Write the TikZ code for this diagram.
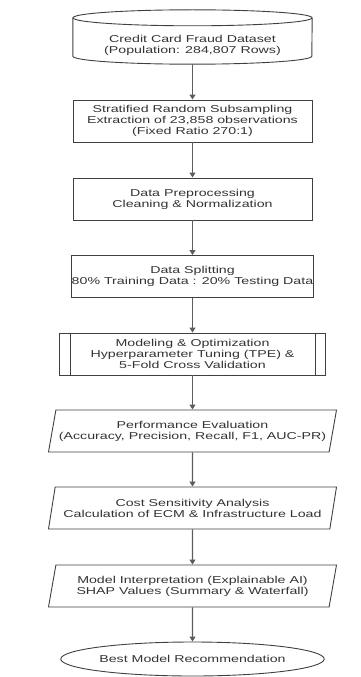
\documentclass[tikz,border=0pt]{standalone}
\usepackage{fontspec}
\setmainfont{Liberation Sans}[FakeStretch=1.42]
\usepackage{tikz}
\usetikzlibrary{arrows.meta}
\usetikzlibrary{shapes.geometric, calc}
\definecolor{edge}{RGB}{64,64,64}
\definecolor{ink}{RGB}{51,51,51}

\begin{document}
\begin{tikzpicture}[x=1pt, y=-1pt,
        every node/.style={font=\fontsize{10}{11}\selectfont, text=ink, align=center},
        stage/.style={draw=edge, line width=0.9pt, minimum width=239pt, minimum height=42pt, inner sep=0pt},
        slanted/.style={stage, trapezium, trapezium left angle=70, trapezium right angle=110, trapezium stretches body, minimum width=288pt},
        flow/.style={draw=edge!85, line width=1.2pt, -{Triangle[length=5pt, width=6pt]}}]
        \useasboundingbox (0,0) rectangle (361,677);
        % data source
        \node[minimum width=239pt, minimum height=38pt, inner sep=0pt] (dataset) at (192.5,45) {Credit Card Fraud Dataset\\(Population: 284,807 Rows)};
        \draw[edge, line width=0.9pt] ($(dataset.north)+(0,-8)$) ellipse[x radius=119.5pt, y radius=8pt];
        \draw[edge, line width=0.9pt] ($(dataset.north west)+(0,-8)$) -- ($(dataset.south west)+(0,-8)$) arc[start angle=180, end angle=360, x radius=119.5pt, y radius=8pt] -- ($(dataset.north east)+(0,-8)$);
        % steps
        \node[stage] (subsample) at (192.5,121) {Stratified Random Subsampling\\Extraction of 23,858 observations\\(Fixed Ratio 270:1)};
        \node[stage] (preprocess) at (192.5,199) {Data Preprocessing\\Cleaning \& Normalization};
        \node[stage] (split) at (192.5,276.5) {Data Splitting\\80\% Training Data : 20\% Testing Data};
        \node[stage, minimum width=266pt] (model) at (192.5,354) {Modeling \& Optimization\\Hyperparameter Tuning (TPE) \&\\5-Fold Cross Validation};
        \draw[edge, line width=0.9pt] ([xshift=11pt]model.north west) -- ([xshift=11pt]model.south west);
        \draw[edge, line width=0.9pt] ([xshift=-11pt]model.north east) -- ([xshift=-11pt]model.south east);
        \node[slanted] (perf) at (192.5,431) {Performance Evaluation\\(Accuracy, Precision, Recall, F1, AUC-PR)};
        \node[slanted] (cost) at (192.5,508) {Cost Sensitivity Analysis\\Calculation of ECM \& Infrastructure Load};
        \node[slanted] (interp) at (192.5,586) {Model Interpretation (Explainable AI)\\SHAP Values (Summary \& Waterfall)};
        \node[draw=edge, line width=0.9pt, ellipse, minimum width=246pt, minimum height=34pt, inner sep=0pt] (best) at (192.5,659) {Best Model Recommendation};
        % connectors
        \draw[flow] (dataset) -- (subsample);
        \draw[flow] (subsample) -- (preprocess);
        \draw[flow] (preprocess) -- (split);
        \draw[flow] (split) -- (model);
        \draw[flow] (model) -- (perf);
        \draw[flow] (perf) -- (cost);
        \draw[flow] (cost) -- (interp);
        \draw[flow] (interp) -- (best);
\end{tikzpicture}
\end{document}
